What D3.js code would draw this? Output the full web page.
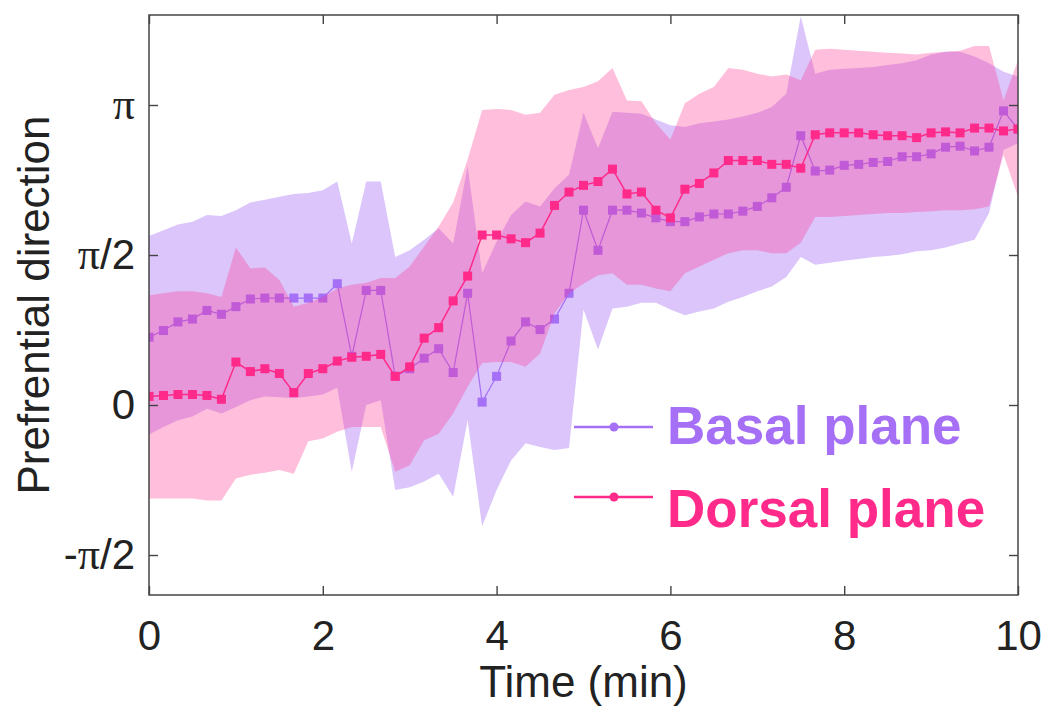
<!DOCTYPE html>
<meta charset="utf-8">
<style>
body { margin: 0; background: #fff; }
svg { font-family: "Liberation Sans", Arial, sans-serif; }
.axis path.domain { display: none; }
.axis line { stroke: #444; stroke-width: 1.4px; }
.axis text { fill: #222; font-size: 42px; }
</style>
<svg width="1044" height="707"></svg>
<script src="https://d3js.org/d3.v7.min.js"></script>
<script>

// sample times (s), one every 10 s
var seconds = [0,10,20,30,40,50,60,70,80,90,100,110,120,130,140,150,160,170,180,190,200,
  210,220,230,240,250,260,270,280,290,300,310,320,330,340,350,360,370,380,390,400,
  410,420,430,440,450,460,470,480,490,500,510,520,530,540,550,560,570,580,590,600];

// preferential direction (rad), mean and band edges
var basalMean = [0.71,0.78,0.87,0.90,0.99,0.95,1.03,1.11,1.12,1.12,1.12,1.12,1.12,1.27,0.51,1.20,1.20,0.30,0.38,0.49,
  0.59,0.34,1.17,0.03,0.30,0.67,0.87,0.79,0.90,1.17,2.04,1.62,2.04,2.04,2.01,1.96,1.92,1.92,1.97,2.00,
  2.00,2.03,2.08,2.17,2.28,2.82,2.45,2.46,2.51,2.52,2.54,2.55,2.60,2.60,2.63,2.70,2.71,2.66,2.70,3.08,2.89];
var basalUpper = [1.77,1.83,1.89,1.92,1.99,1.98,2.04,2.12,2.15,2.18,2.21,2.22,2.25,2.34,1.69,2.34,2.34,1.55,1.62,1.73,
  1.85,1.69,2.50,1.38,1.71,1.99,2.13,2.08,2.27,2.41,3.06,2.69,3.07,3.06,3.05,2.99,2.93,2.91,2.95,2.97,
  2.99,3.02,3.06,3.12,3.26,4.07,3.47,3.51,3.52,3.53,3.54,3.56,3.58,3.61,3.67,3.70,3.70,3.65,3.58,3.49,3.44];
var basalLower = [-0.31,-0.23,-0.16,-0.12,-0.04,-0.09,-0.02,0.05,0.09,0.08,0.07,0.09,0.11,0.18,-0.70,0.00,0.05,-0.89,-0.86,-0.80,
  -0.72,-0.96,-0.16,-1.27,-0.89,-0.58,-0.40,-0.44,-0.47,-0.45,1.00,0.58,1.01,1.03,1.07,1.07,1.00,0.94,0.98,1.01,
  1.08,1.13,1.19,1.24,1.34,1.55,1.47,1.49,1.51,1.53,1.55,1.56,1.58,1.61,1.62,1.65,1.69,1.73,2.01,2.67,2.74];

var dorsalMean = [0.09,0.10,0.11,0.11,0.10,0.06,0.45,0.35,0.38,0.33,0.13,0.33,0.38,0.46,0.50,0.51,0.53,0.30,0.40,0.70,
  0.81,1.09,1.35,1.78,1.78,1.74,1.70,1.80,2.09,2.23,2.30,2.34,2.47,2.21,2.23,2.04,1.96,2.26,2.32,2.43,
  2.56,2.56,2.56,2.52,2.52,2.48,2.83,2.85,2.85,2.85,2.83,2.82,2.82,2.80,2.85,2.86,2.85,2.90,2.90,2.87,2.89];
var dorsalUpper = [1.15,1.17,1.19,1.19,1.17,1.13,1.65,1.43,1.44,1.31,1.03,1.07,1.13,1.22,1.26,1.28,1.33,1.33,1.45,1.66,
  1.87,2.12,2.57,3.09,3.10,3.09,3.04,3.06,3.25,3.30,3.33,3.39,3.53,3.19,3.18,2.95,2.78,3.16,3.26,3.33,
  3.53,3.51,3.47,3.44,3.46,3.40,3.72,3.73,3.72,3.71,3.70,3.69,3.68,3.67,3.69,3.70,3.71,3.76,3.76,3.19,3.61];
var dorsalLower = [-0.98,-0.98,-0.98,-0.98,-1.00,-1.00,-0.77,-0.73,-0.71,-0.68,-0.72,-0.38,-0.35,-0.28,-0.23,-0.23,-0.23,-0.70,-0.63,-0.37,
  -0.30,-0.09,0.19,0.44,0.45,0.45,0.40,0.54,0.96,1.17,1.27,1.36,1.38,1.26,1.26,1.22,1.19,1.38,1.45,1.52,
  1.59,1.62,1.62,1.59,1.59,1.70,1.97,1.97,1.98,1.99,2.00,2.01,2.01,2.02,2.03,2.04,2.04,2.05,2.08,2.62,2.18];

var xTicks = [0, 2, 4, 6, 8, 10];
var yTicks = [-Math.PI / 2, 0, Math.PI / 2, Math.PI];
var yTickLabels = ["-π/2", "0", "π/2", "π"];

var basalColor = "#a56ff6",
    dorsalColor = "#ff2a8a";

var svg = d3.select("svg"),
    plotL = 149, plotR = 1018, plotT = 15, plotB = 595;

var x = d3.scaleLinear().domain([0, 10]).range([plotL, plotR]);
var y = d3.scaleLinear().domain([-0.6333 * Math.PI, 1.3 * Math.PI]).range([plotB, plotT]);

function rows(mean, lo, hi) {
  return seconds.map(function(s, i) {
    return { t: s / 60, m: mean[i], lo: lo[i], hi: hi[i] };
  });
}
var basal = rows(basalMean, basalLower, basalUpper);
var dorsal = rows(dorsalMean, dorsalLower, dorsalUpper);

svg.append("clipPath").attr("id", "plot")
  .append("rect").attr("x", plotL).attr("y", plotT)
  .attr("width", plotR - plotL).attr("height", plotB - plotT);

var area = d3.area()
  .x(function(d) { return x(d.t); })
  .y0(function(d) { return y(d.lo); })
  .y1(function(d) { return y(d.hi); });

var line = d3.line()
  .x(function(d) { return x(d.t); })
  .y(function(d) { return y(d.m); });

var g = svg.append("g").attr("clip-path", "url(#plot)");

function drawSeries(data, color, fillOpacity, lineWidth) {
  g.append("path").datum(data)
    .attr("d", area)
    .attr("fill", color)
    .attr("fill-opacity", fillOpacity);
  g.append("path").datum(data)
    .attr("d", line)
    .attr("fill", "none")
    .attr("stroke", color)
    .attr("stroke-width", lineWidth);
  g.append("g").selectAll("rect")
    .data(data)
    .enter().append("rect")
      .attr("x", function(d) { return x(d.t) - 4.5; })
      .attr("y", function(d) { return y(d.m) - 4.5; })
      .attr("width", 9)
      .attr("height", 9)
      .attr("fill", color);
}

// basal first, dorsal band drawn over it
drawSeries(basal, basalColor, 0.4, 1.2);
drawSeries(dorsal, dorsalColor, 0.3, 1.5);

// axes, ticks pointing inward
svg.append("g").attr("class", "axis")
  .attr("transform", "translate(0," + plotB + ")")
  .call(d3.axisBottom(x).tickValues(xTicks).tickSize(-9).tickPadding(25))
  .selectAll("text").attr("dy", "0.71em");

svg.append("g").attr("class", "axis")
  .attr("transform", "translate(0," + plotT + ")")
  .call(d3.axisTop(x).tickValues(xTicks).tickSize(-9).tickFormat(""));

var yAxis = svg.append("g").attr("class", "axis")
  .attr("transform", "translate(" + plotL + ",0)")
  .call(d3.axisLeft(y).tickValues(yTicks).tickSize(-9).tickPadding(14)
    .tickFormat(function(d, i) { return yTickLabels[i]; }));

// pi in a serif face, like the original
yAxis.selectAll(".tick text").each(function(d, i) {
  var t = d3.select(this), label = yTickLabels[i];
  t.text(null);
  label.split(/(π)/).forEach(function(part) {
    if (!part) return;
    var s = t.append("tspan").text(part);
    if (part === "π") s.style("font-family", "'Liberation Serif', serif").style("font-size", "44px");
  });
});

svg.append("g").attr("class", "axis")
  .attr("transform", "translate(" + plotR + ",0)")
  .call(d3.axisRight(y).tickValues(yTicks).tickSize(-9).tickFormat(""));

svg.append("rect")
  .attr("x", plotL).attr("y", plotT)
  .attr("width", plotR - plotL).attr("height", plotB - plotT)
  .attr("fill", "none")
  .attr("stroke", "#444")
  .attr("stroke-width", 1.5);

// axis titles
svg.append("text")
  .attr("x", (plotL + plotR) / 2).attr("y", 697)
  .attr("text-anchor", "middle")
  .style("font-size", "44px").style("fill", "#222")
  .text("Time (min)");

svg.append("text")
  .attr("transform", "translate(49," + (plotT + plotB) / 2 + ") rotate(-90)")
  .attr("text-anchor", "middle")
  .style("font-size", "44px").style("fill", "#222")
  .text("Prefrential direction");

// legend
var legend = [
  { name: "Basal plane", color: basalColor, ly: 427, ty: 444 },
  { name: "Dorsal plane", color: dorsalColor, ly: 497, ty: 527 }
];
var lg = svg.append("g").selectAll("g").data(legend).enter().append("g");
lg.append("line")
  .attr("x1", 574).attr("x2", 653)
  .attr("y1", function(d) { return d.ly; }).attr("y2", function(d) { return d.ly; })
  .attr("stroke", function(d) { return d.color; })
  .attr("stroke-width", 2.5);
lg.append("circle")
  .attr("cx", 614).attr("cy", function(d) { return d.ly; })
  .attr("r", 4.5)
  .attr("fill", function(d) { return d.color; });
lg.append("text")
  .attr("x", 667).attr("y", function(d) { return d.ty; })
  .style("font-size", "53px").style("font-weight", "bold")
  .style("fill", function(d) { return d.color; })
  .text(function(d) { return d.name; });

</script>
